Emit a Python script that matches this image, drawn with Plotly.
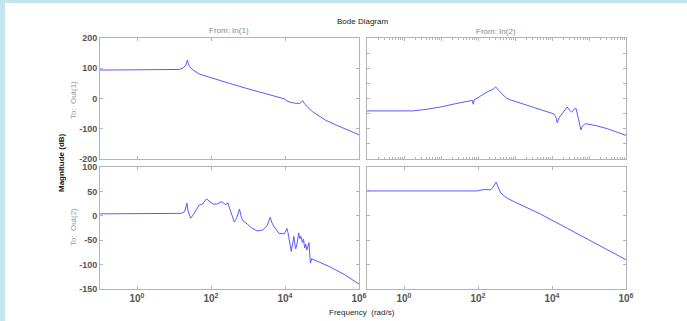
import plotly.graph_objects as go

# ---- data (log10 of frequency in rad/s, magnitude in dB) ----
w11_log = [-1, 0.5, 1.0, 1.15, 1.25, 1.32, 1.36, 1.40, 1.45, 1.55, 1.70, 2.0, 2.5, 3.0, 3.5, 3.98,
           4.05, 4.16, 4.30, 4.40, 4.44, 4.48, 4.52, 4.62, 4.75, 4.90, 5.1, 5.35, 5.6, 5.79, 6.0]
mag11 = [94, 94, 94, 96, 101, 110, 127, 110, 101, 91, 80, 68, 50, 32, 15, -1,
         -8, -13, -16, -16, -12, -7, -16, -30, -44, -57, -72, -86, -100, -108, -120]

w12_log = [-1, 0.23, 0.6, 0.99, 1.4, 1.80, 1.85, 1.87, 1.90, 1.95, 2.1, 2.25, 2.40, 2.48, 2.55, 2.66,
           2.75, 2.84, 3.2, 3.69, 4.05, 4.10, 4.14, 4.20, 4.28, 4.41, 4.47, 4.53, 4.60, 4.65, 4.72,
           4.78, 4.82, 4.90, 5.2, 5.5, 6.0]
mag12 = [-41, -41, -36, -28, -17, -7, -6, -19, -4, -1, 10, 22, 30, 38, 28, 13,
         3, -3, -18, -38, -51, -60, -80, -62, -48, -28, -38, -45, -35, -33, -70,
         -104, -92, -83, -90, -100, -122]

w21_log = [-1, 1.0, 1.20, 1.29, 1.33, 1.35, 1.38, 1.42, 1.45, 1.52, 1.60, 1.68, 1.77, 1.83, 1.88,
           1.95, 2.06, 2.16, 2.29, 2.36, 2.40, 2.45, 2.48, 2.58, 2.63, 2.70, 2.77, 2.81, 2.86, 2.98,
           3.1, 3.25, 3.40, 3.52, 3.57, 3.60, 3.64, 3.70, 3.84, 3.98, 4.03, 4.05, 4.08, 4.12, 4.17,
           4.21, 4.24, 4.27, 4.29, 4.33, 4.37, 4.40, 4.43, 4.47, 4.50, 4.53, 4.56, 4.59, 4.62, 4.65,
           4.67, 4.69, 4.72, 5.17, 5.6, 6.0]
mag21 = [4, 4, 5, 9, 18, 26, 10, -2, -5, 2, 12, 22, 24, 30, 35,
         30, 24, 24, 29, 25, 22, 27, 20, -5, -13, -3, 14, 0, -10, -17,
         -25, -31, -29, -20, -10, -3, -13, -22, -36, -37, -30, -26, -34, -52, -73,
         -55, -42, -60, -68, -55, -35, -47, -42, -55, -48, -66, -58, -70, -60, -55,
         -80, -97, -88, -103, -120, -140]

w22_log = [-1, 1.98, 2.1, 2.21, 2.33, 2.40, 2.49, 2.55, 2.61, 2.70, 2.79, 3.0, 3.69, 4.42, 5.0, 6.0]
mag22 = [51, 51, 53, 54, 53, 58, 69, 57, 47, 41, 36, 28, 3.5, -26, -50, -90]

x_tick_vals = [1, 100, 1e4, 1e6]
x_tick_text = ["10<sup>0</sup>", "10<sup>2</sup>", "10<sup>4</sup>", "10<sup>6</sup>"]
y_top_ticks = [-200, -100, 0, 100, 200]
y_top_text = ["-200", "-100", "0", "100", "200"]
y_top_right_ticks = [-150, -100, -50, 0, 50, 100, 150]
y_bot_ticks = [-150, -100, -50, 0, 50, 100]
y_bot_text = ["-150", "-100", "-50", "0", "50", "100"]

W, H = 687, 321
LINE = "#5a5aff"
FRAME = "#b4b4b4"
FONT = "Liberation Sans, Arial, sans-serif"

def freqs(logs):
    return [10 ** v for v in logs]

fig = go.Figure()
fig.add_trace(go.Scatter(x=freqs(w11_log), y=mag11, mode="lines", line=dict(color=LINE, width=1), xaxis="x", yaxis="y"))
fig.add_trace(go.Scatter(x=freqs(w12_log), y=mag12, mode="lines", line=dict(color=LINE, width=1), xaxis="x2", yaxis="y2"))
fig.add_trace(go.Scatter(x=freqs(w21_log), y=mag21, mode="lines", line=dict(color=LINE, width=1), xaxis="x3", yaxis="y3"))
fig.add_trace(go.Scatter(x=freqs(w22_log), y=mag22, mode="lines", line=dict(color=LINE, width=1), xaxis="x4", yaxis="y4"))

xl = [100 / W, 359 / W]
xr = [367 / W, 626 / W]
yt = [1 - 159 / H, 1 - 38 / H]
yb = [1 - 289 / H, 1 - 167 / H]

tickfont = dict(family=FONT, size=10, color="#555555", weight="bold")
ytickfont = dict(family=FONT, size=9, color="#555555", weight="bold")

def xaxis(domain, anchor, labels, minor=False):
    d = dict(type="log", range=[-1, 6], domain=domain, anchor=anchor, showgrid=False, zeroline=False,
             showline=True, linecolor=FRAME, linewidth=1, mirror="ticks", ticks="inside", ticklen=3,
             tickcolor=FRAME, tickmode="array", tickvals=x_tick_vals, ticktext=x_tick_text,
             showticklabels=labels, tickfont=tickfont, automargin=False)
    if minor:
        mv = []
        for e in range(-1, 6):
            for m in range(2, 10):
                mv.append(m * 10 ** e)
        d["tickvals"] = [10 ** e for e in range(-1, 7)]
        d["ticktext"] = None
        d["minor"] = dict(ticks="inside", ticklen=2, tickcolor=FRAME, tickmode="array", tickvals=mv, showgrid=False)
    return d

def yaxis(domain, anchor, rng, tv, labels, tt=None):
    d = dict(range=rng, domain=domain, anchor=anchor, showgrid=False, zeroline=False, showline=True,
             linecolor=FRAME, linewidth=1, mirror="ticks", ticks="inside", ticklen=3, tickcolor=FRAME,
             tickmode="array", tickvals=tv, showticklabels=labels, tickfont=ytickfont, automargin=False)
    if tt is not None:
        d["ticktext"] = tt
    return d

fig.update_layout(
    width=W, height=H, autosize=False,
    margin=dict(l=0, r=0, t=0, b=0, pad=0, autoexpand=False),
    paper_bgcolor="#c4e4ee",
    plot_bgcolor="white",
    showlegend=False,
    xaxis=xaxis(xl, "y", False),
    yaxis=yaxis(yt, "x", [-200, 200], y_top_ticks, True, y_top_text),
    xaxis2=xaxis(xr, "y2", False, minor=True),
    yaxis2=yaxis(yt, "x2", [-200, 200], y_top_right_ticks, False),
    xaxis3=xaxis(xl, "y3", True),
    yaxis3=yaxis(yb, "x3", [-150, 100], y_bot_ticks, True, y_bot_text),
    xaxis4=xaxis(xr, "y4", True),
    yaxis4=yaxis(yb, "x4", [-150, 100], y_bot_ticks, False),
    shapes=[dict(type="rect", xref="paper", yref="paper", x0=5 / W, x1=1, y0=0, y1=1 - 3 / H,
                 fillcolor="white", line=dict(width=0), layer="below")],
)

def txt(text, x, y, color, size=8, angle=0, bold=False):
    fig.add_annotation(text=text, x=x / W, y=1 - y / H, xref="paper", yref="paper", showarrow=False,
                       textangle=angle, xanchor="center", yanchor="middle",
                       font=dict(family=FONT, size=size, color=color, weight="bold" if bold else "normal"))

txt("Bode Diagram", 362, 21, "#222222")
txt("From: In(1)", 229, 30, "#888888")
txt("From: In(2)", 496, 31, "#888888")
txt("To:  Out(1)", 73, 100, "#999999", angle=-90)
txt("To:  Out(2)", 73, 227, "#999999", angle=-90)
txt("Magnitude (dB)", 62, 163, "#111111", angle=-90, bold=True)
txt("Frequency  (rad/s)", 362, 312, "#222222")

fig.write_html(
    "out.html",
    config={"displayModeBar": False, "responsive": False},
    post_script="document.body.style.margin='0';document.body.style.overflow='hidden';",
)
